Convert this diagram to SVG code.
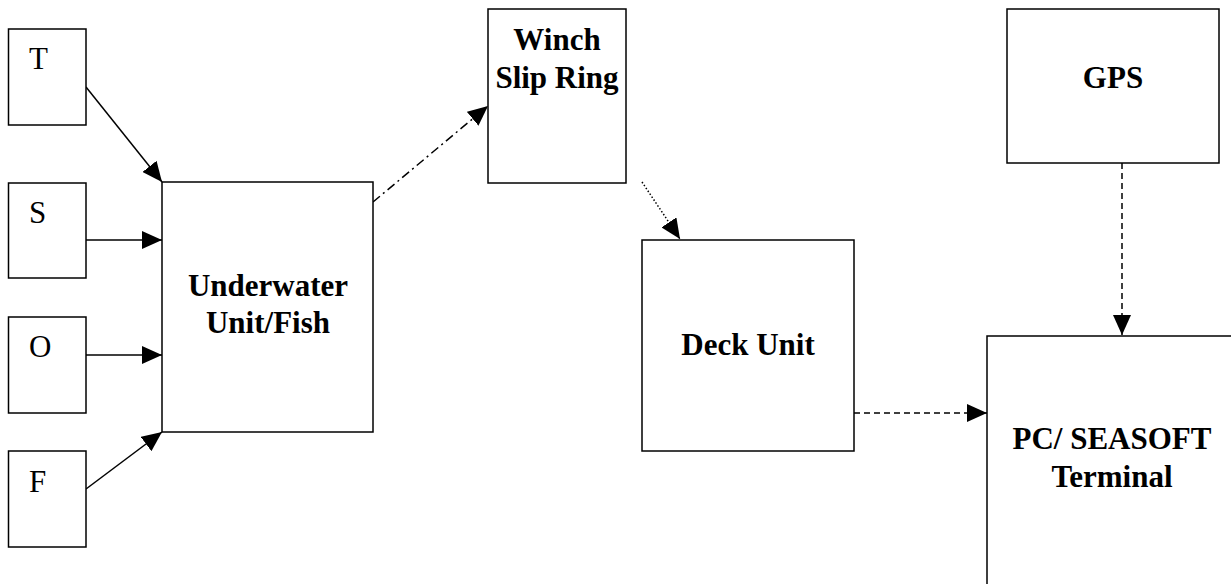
<svg xmlns="http://www.w3.org/2000/svg" width="1231" height="584" viewBox="0 0 1231 584">
<style>
.box{fill:#fff;stroke:#000;stroke-width:1.5}
.lbl{font-family:"Liberation Serif","Times New Roman",serif;font-size:31px;fill:#000}
.bold{font-family:"Liberation Serif","Times New Roman",serif;font-size:31px;font-weight:bold;fill:#000;text-anchor:middle}
.edge{fill:none;stroke:#000;stroke-width:1.5}
.dashdot{stroke-dasharray:9 4 2 4}
.dotted{stroke-dasharray:1.5 2}
.dashed{stroke-dasharray:6 4}
</style>
<defs>
<marker id="ah" markerUnits="userSpaceOnUse" markerWidth="20" markerHeight="18" refX="20" refY="9" orient="auto">
<path d="M0,0 L20,9 L0,18 Z" fill="#000"/>
</marker>
</defs>
<g id="connectors">
<line class="edge" x1="86" y1="87" x2="162" y2="182" marker-end="url(#ah)"/>
<line class="edge" x1="86" y1="240" x2="162" y2="240" marker-end="url(#ah)"/>
<line class="edge" x1="86" y1="355" x2="162" y2="355" marker-end="url(#ah)"/>
<line class="edge" x1="86" y1="489" x2="162" y2="432" marker-end="url(#ah)"/>
<line class="edge dashdot" x1="373" y1="202" x2="488" y2="106" marker-end="url(#ah)"/>
<line class="edge dotted" x1="642" y1="182" x2="680" y2="239" marker-end="url(#ah)"/>
<line class="edge dashed" x1="854" y1="413" x2="987" y2="413" marker-end="url(#ah)"/>
<line class="edge dashed" x1="1122" y1="163" x2="1122" y2="335" marker-end="url(#ah)"/>
</g>
<g id="node-T"><rect class="box" x="8.5" y="29" width="77.5" height="96"/><text class="lbl" x="29" y="69">T</text></g>
<g id="node-S"><rect class="box" x="8.5" y="183" width="77.5" height="95"/><text class="lbl" x="29" y="223">S</text></g>
<g id="node-O"><rect class="box" x="8.5" y="317" width="77.5" height="96"/><text class="lbl" x="29" y="357">O</text></g>
<g id="node-F"><rect class="box" x="8.5" y="451" width="77.5" height="96"/><text class="lbl" x="29" y="492">F</text></g>
<g id="node-fish"><rect class="box" x="162" y="182" width="211" height="250"/><text class="bold" x="268" y="296">Underwater</text><text class="bold" x="268" y="333">Unit/Fish</text></g>
<g id="node-winch"><rect class="box" x="488" y="9" width="138" height="174"/><text class="bold" x="557" y="50">Winch</text><text class="bold" x="557" y="88">Slip Ring</text></g>
<g id="node-deck"><rect class="box" x="642" y="240" width="212" height="211"/><text class="bold" x="748" y="355">Deck Unit</text></g>
<g id="node-gps"><rect class="box" x="1007" y="9" width="212" height="154"/><text class="bold" x="1113" y="88">GPS</text></g>
<g id="node-pc"><rect class="box" x="987" y="336" width="260" height="260"/><text class="bold" x="1112" y="449">PC/ SEASOFT</text><text class="bold" x="1112" y="487">Terminal</text></g>
</svg>
